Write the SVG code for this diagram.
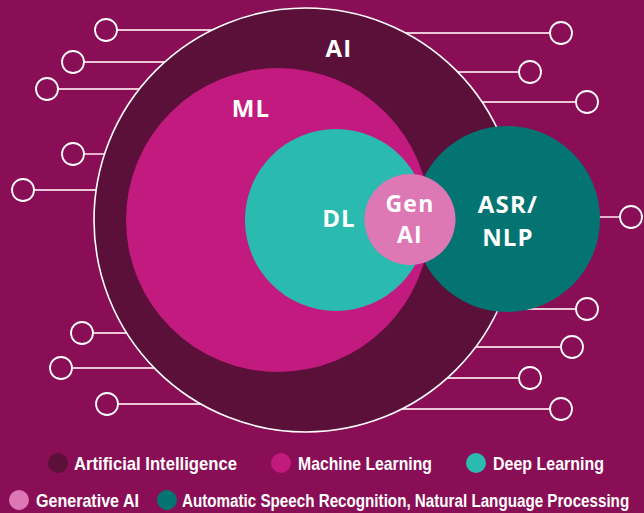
<svg xmlns="http://www.w3.org/2000/svg" width="644" height="513" viewBox="0 0 644 513">
<style>
.bg{fill:#8A0E55}
.wire{stroke:#EBC6D9;stroke-width:1.8;fill:none}
.pad{stroke:#FFFFFF;stroke-width:1.8;fill:none}
.lbl{font-family:"Open Sans","Liberation Sans",sans-serif;font-weight:700;font-size:24px;fill:#FFFFFF;text-anchor:middle;letter-spacing:1.2px}
.sm{font-size:23px}
.leg{font-family:"Liberation Sans","DejaVu Sans",sans-serif;font-weight:700;font-size:19px;fill:#FFFFFF}
</style>
<rect class="bg" x="0" y="0" width="644" height="513"/>
<g id="connectors">
<line class="wire" x1="117" y1="30" x2="212" y2="30"/>
<line class="wire" x1="84" y1="62" x2="165" y2="62"/>
<line class="wire" x1="58" y1="89" x2="139" y2="89"/>
<line class="wire" x1="84" y1="154" x2="105" y2="154"/>
<line class="wire" x1="34" y1="190" x2="96" y2="190"/>
<line class="wire" x1="93" y1="333" x2="127" y2="333"/>
<line class="wire" x1="72" y1="368" x2="154" y2="368"/>
<line class="wire" x1="118" y1="404" x2="201" y2="404"/>
<line class="wire" x1="406" y1="33" x2="550" y2="33"/>
<line class="wire" x1="458" y1="72" x2="519" y2="72"/>
<line class="wire" x1="482" y1="102" x2="576" y2="102"/>
<line class="wire" x1="598" y1="217" x2="620" y2="217"/>
<line class="wire" x1="498" y1="309" x2="576" y2="309"/>
<line class="wire" x1="476" y1="347" x2="561" y2="347"/>
<line class="wire" x1="447" y1="378" x2="519" y2="378"/>
<line class="wire" x1="402" y1="409" x2="550" y2="409"/>
<circle class="pad" cx="106" cy="30" r="11"/>
<circle class="pad" cx="73" cy="62" r="11"/>
<circle class="pad" cx="47" cy="89" r="11"/>
<circle class="pad" cx="73" cy="154" r="11"/>
<circle class="pad" cx="23" cy="190" r="11"/>
<circle class="pad" cx="82" cy="333" r="11"/>
<circle class="pad" cx="61" cy="368" r="11"/>
<circle class="pad" cx="107" cy="404" r="11"/>
<circle class="pad" cx="561" cy="33" r="11"/>
<circle class="pad" cx="530" cy="72" r="11"/>
<circle class="pad" cx="587" cy="102" r="11"/>
<circle class="pad" cx="631" cy="217" r="11"/>
<circle class="pad" cx="587" cy="309" r="11"/>
<circle class="pad" cx="572" cy="347" r="11"/>
<circle class="pad" cx="530" cy="378" r="11"/>
<circle class="pad" cx="561" cy="409" r="11"/>
</g>
<g id="node-ai">
<circle cx="306" cy="220" r="212" fill="#5A1038" stroke="#FFFFFF" stroke-width="1.6"/>
</g>
<g id="node-ml">
<circle cx="278" cy="220" r="152" fill="#C21A7E"/>
</g>
<g id="node-dl">
<circle cx="336" cy="220" r="91" fill="#2BBAB0"/>
</g>
<g id="node-asr">
<circle cx="507" cy="219" r="93" fill="#037472"/>
</g>
<g id="node-genai">
<circle cx="410" cy="219.5" r="45.5" fill="#DE78B4"/>
</g>
<g id="labels">
<text class="lbl" x="339" y="57">AI</text>
<text class="lbl" x="251" y="117">ML</text>
<text class="lbl" x="339" y="227">DL</text>
<text class="lbl sm" x="410" y="212">Gen</text>
<text class="lbl sm" x="410" y="243">AI</text>
<text class="lbl" x="508" y="213">ASR/</text>
<text class="lbl" x="508" y="246">NLP</text>
</g>
<g id="legend">
<g id="legend-ai"><circle cx="58" cy="463" r="10" fill="#5A1038"/><text class="leg" x="74" y="470" textLength="163" lengthAdjust="spacingAndGlyphs">Artificial Intelligence</text></g>
<g id="legend-ml"><circle cx="281" cy="463" r="10" fill="#C21A7E"/><text class="leg" x="298" y="470" textLength="134" lengthAdjust="spacingAndGlyphs">Machine Learning</text></g>
<g id="legend-dl"><circle cx="476" cy="463" r="10" fill="#2BBAB0"/><text class="leg" x="493" y="470" textLength="111" lengthAdjust="spacingAndGlyphs">Deep Learning</text></g>
<g id="legend-genai"><circle cx="19" cy="500" r="10" fill="#DE78B4"/><text class="leg" x="36" y="507" textLength="103" lengthAdjust="spacingAndGlyphs">Generative AI</text></g>
<g id="legend-asr"><circle cx="167" cy="500" r="10" fill="#037472"/><text class="leg" transform="translate(182,507) scale(0.8,1)" x="0" y="0">Automatic Speech Recognition, Natural Language Processing</text></g>
</g>
</svg>
